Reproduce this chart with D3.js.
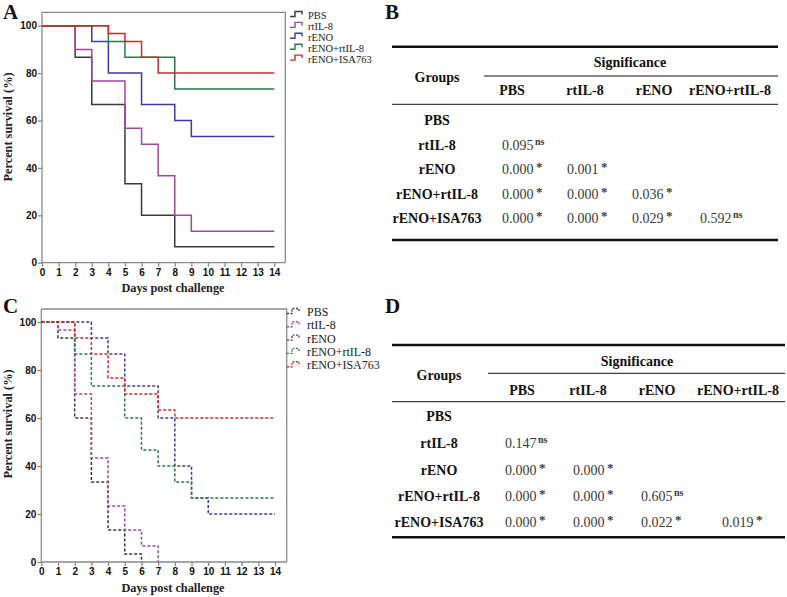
<!DOCTYPE html>
<html><head><meta charset="utf-8">
<script src="https://cdn.jsdelivr.net/npm/d3@7"></script>
<style>body{margin:0;background:#fff}svg{display:block}</style>
</head><body>
<script>
// ---------- DATA ----------
const days = [0,1,2,3,4,5,6,7,8,9,10,11,12,13,14];
const groups = ["PBS","rtIL-8","rENO","rENO+rtIL-8","rENO+ISA763"];
const yTicks = [0,20,40,60,80,100];
// Panel A: percent survival on each day (solid)
const survA_PBS   = [100,100,86.7,66.7,66.7,33.3,20,20,6.7,6.7,6.7,6.7,6.7,6.7,6.7];
const survA_rtIL8 = [100,100,90,76.7,76.7,56.7,50,36.7,20,13.3,13.3,13.3,13.3,13.3,13.3];
const survA_rENO  = [100,100,100,93.3,80,80,66.7,66.7,60,53.3,53.3,53.3,53.3,53.3,53.3];
const survA_rENO_rtIL8 = [100,100,100,100,93.3,86.7,86.7,86.7,73.3,73.3,73.3,73.3,73.3,73.3,73.3];
const survA_rENO_ISA   = [100,100,100,100,96.7,93.3,86.7,80,80,80,80,80,80,80,80];
// Panel C: percent survival on each day (dashed)
const survC_PBS   = [100,93.3,60,33.3,13.3,3.3,0,null,null,null,null,null,null,null,null];
const survC_rtIL8 = [100,96.7,70,43.3,23.3,13.3,6.7,0,null,null,null,null,null,null,null];
const survC_rENO  = [100,100,100,93.3,86.7,73.3,73.3,60,40,26.7,20,20,20,20,20];
const survC_rENO_rtIL8 = [100,100,86.7,73.3,73.3,60,46.7,40,33.3,26.7,26.7,26.7,26.7,26.7,26.7];
const survC_rENO_ISA   = [100,100,93.3,86.7,76.7,70,70,63.3,60,60,60,60,60,60,60];
// Tables B and D
const tableCols = ["PBS","rtIL-8","rENO","rENO+rtIL-8"];
const pB   = [[],["0.095"],["0.000","0.001"],["0.000","0.000","0.036"],["0.000","0.000","0.029","0.592"]];
const sigB = [[],["ns"],["*","*"],["*","*","*"],["*","*","*","ns"]];
const pD   = [[],["0.147"],["0.000","0.000"],["0.000","0.000","0.605"],["0.000","0.000","0.022","0.019"]];
const sigD = [[],["ns"],["*","*"],["*","*","ns"],["*","*","*","*"]];

const colors = ["#3a3a3a","#a346a8","#3c3c9e","#2a7a4c","#cc2b2b"];

// ---------- DRAW ----------
const svg = d3.select("body").append("svg").attr("width",787).attr("height",597);
const SERIF = "'Liberation Serif','Times New Roman',serif";
const SANS = "'Liberation Sans',Arial,sans-serif";

function panelLabel(t,x,y){
  svg.append("text").attr("x",x).attr("y",y).text(t)
    .attr("font-family",SERIF).attr("font-weight","bold").attr("font-size",21).attr("fill","#111");
}

function survivalPanel(cfg){
  const x = d3.scaleLinear().domain([0,14]).range([cfg.x0,cfg.x14]);
  const y = d3.scaleLinear().domain([0,100]).range([cfg.y0,cfg.y100]);
  const g = svg.append("g");
  g.append("path").attr("d",`M${cfg.x0},${cfg.top}H${cfg.right}V${cfg.y0}`)
    .attr("fill","none").attr("stroke","#8a8a8a").attr("stroke-width",1.3);
  const ax = g.append("g").attr("transform",`translate(0,${cfg.y0})`)
    .call(d3.axisBottom(x).tickValues(days).tickFormat(d3.format("d")).tickSize(4).tickPadding(2).tickSizeOuter(0));
  ax.select(".domain").attr("d",`M${cfg.x0},0H${cfg.right}`);
  const ay = g.append("g").attr("transform",`translate(${cfg.x0},0)`)
    .call(d3.axisLeft(y).tickValues(yTicks).tickSize(4).tickPadding(1).tickSizeOuter(0));
  ay.select(".domain").attr("d",`M0,${cfg.y0}V${cfg.top}`);
  [ax,ay].forEach(a=>{
    a.selectAll(".domain,line").attr("stroke","#8a8a8a").attr("stroke-width",1.3);
    a.selectAll("text").attr("font-family",SANS).attr("font-weight","bold").attr("font-size",10).attr("fill","#111");
  });
  const line = d3.line().defined(d=>d!=null).x((d,i)=>x(days[i])).y(d=>y(d)).curve(d3.curveStepAfter);
  cfg.series.forEach((s,i)=>{
    g.append("path").datum(s).attr("d",line).attr("fill","none")
      .attr("stroke",colors[i]).attr("stroke-width",1.5)
      .attr("stroke-dasharray",cfg.dash?"3,2":null);
  });
  g.append("text").attr("transform",`translate(${cfg.ytx},${cfg.ytY}) rotate(-90)`)
    .attr("text-anchor","middle").text("Percent survival (%)")
    .attr("font-family",SERIF).attr("font-weight","bold").attr("font-size",12.3).attr("fill","#222");
  g.append("text").attr("x",cfg.xtX).attr("y",cfg.xtY).attr("text-anchor","middle").text("Days post challenge")
    .attr("font-family",SERIF).attr("font-weight","bold").attr("font-size",12.3).attr("fill","#222");
  groups.forEach((name,i)=>{
    const ly = cfg.legY + i*cfg.legDy;
    const lx = cfg.legX;
    g.append("path").attr("d",`M${lx},${ly+1}H${lx+5}V${ly-4}H${lx+12}V${ly-1}`)
      .attr("fill","none").attr("stroke",colors[i]).attr("stroke-width",1.4)
      .attr("stroke-dasharray",cfg.dash?"2,1.5":null);
    g.append("text").attr("x",lx+cfg.legTx).attr("y",ly+3.5).text(name)
      .attr("font-family",SERIF).attr("font-size",cfg.legFs).attr("fill","#222");
  });
}

survivalPanel({x0:42,x14:274.3,right:285.3,top:12.3,y0:262.7,y100:25.7,
  series:[survA_PBS,survA_rtIL8,survA_rENO,survA_rENO_rtIL8,survA_rENO_ISA],dash:false,
  ytx:12,ytY:127,xtX:173,xtY:292,legX:290,legY:15.5,legDy:10.9,legTx:18,legFs:10.5});
survivalPanel({x0:41.3,x14:275,right:286.7,top:309,y0:562,y100:322,
  series:[survC_PBS,survC_rtIL8,survC_rENO,survC_rENO_rtIL8,survC_rENO_ISA],dash:true,
  ytx:12,ytY:424,xtX:173,xtY:592,legX:287,legY:312.5,legDy:13.3,legTx:20,legFs:12});

panelLabel("A",3,19);
panelLabel("B",385,19);
panelLabel("C",3,313);
panelLabel("D",385,313);

function table(cfg){
  const g = svg.append("g");
  const hl = (y,x1,w)=>g.append("line").attr("x1",x1).attr("x2",cfg.xr).attr("y1",y).attr("y2",y)
    .attr("stroke","#111").attr("stroke-width",w);
  hl(cfg.yTop,cfg.xl,2.6);
  hl(cfg.ySig,cfg.xSigL,1);
  hl(cfg.yHead,cfg.xl,1);
  hl(cfg.yBot,cfg.xl,2.6);
  const bold = s=>s.attr("font-family",SERIF).attr("font-weight","bold").attr("font-size",14).attr("fill","#111").attr("text-anchor","middle");
  bold(g.append("text").attr("x",cfg.gx).attr("y",cfg.groupsY).text("Groups"));
  bold(g.append("text").attr("x",cfg.sigX).attr("y",cfg.sigY).text("Significance"));
  tableCols.forEach((c,j)=>bold(g.append("text").attr("x",cfg.hx[j]).attr("y",cfg.hY).text(c)));
  groups.forEach((r,i)=>{
    const ry = cfg.rowY[i];
    bold(g.append("text").attr("x",cfg.gx).attr("y",ry).text(r));
    cfg.p[i].forEach((v,j)=>{
      const t = g.append("text").attr("x",cfg.vx[j]).attr("y",ry)
        .attr("font-family",SERIF).attr("font-size",14).attr("fill","#3a3a3a");
      t.append("tspan").text(v);
      const s = cfg.sig[i][j];
      t.append("tspan").attr("dx",s==="ns"?1.5:2.5).attr("dy",s==="ns"?-5:-3)
        .attr("font-size",s==="ns"?10:13).attr("font-weight","bold").text(s);
    });
  });
}
table({xl:392,xr:778,xSigL:484,yTop:46.7,ySig:76,yHead:104.3,yBot:240,
  gx:437,groupsY:82,sigX:630,sigY:67,hx:[512,585,654,730],hY:95,
  vx:[502,567,632,700],rowY:[125,150,174,198.5,223],p:pB,sig:sigB});
table({xl:392,xr:785,xSigL:488,yTop:345,ySig:373.3,yHead:401.7,yBot:537.3,
  gx:439,groupsY:380,sigX:637,sigY:366,hx:[522,588,657,738],hY:394.5,
  vx:[505,573,641,722],rowY:[421,448,474.5,500.5,527],p:pD,sig:sigD});
</script>
</body></html>
